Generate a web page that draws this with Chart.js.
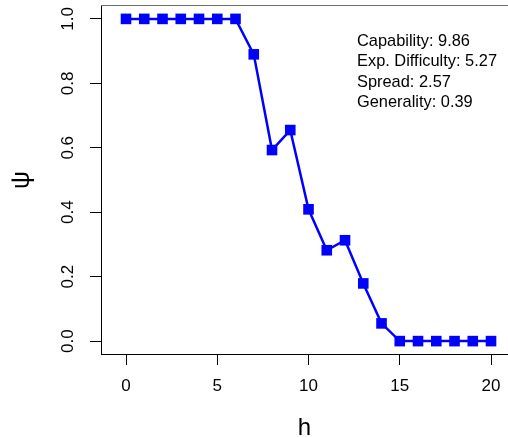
<!DOCTYPE html>
<html>
<head>
<meta charset="utf-8">
<script src="https://cdn.jsdelivr.net/npm/chart.js@4/dist/chart.umd.min.js"></script>
<style>
  html, body { margin: 0; padding: 0; background: #ffffff; }
  canvas { display: block; }
</style>
</head>
<body>
<canvas id="c" width="508" height="438"></canvas>
<script>
// ---- data ----
const hValues   = [0, 1, 2, 3, 4, 5, 6, 7, 8, 9, 10, 11, 12, 13, 14, 15, 16, 17, 18, 19, 20];
const psiValues = [1, 1, 1, 1, 1, 1, 1, 0.89, 0.593, 0.655, 0.409, 0.282, 0.313, 0.179, 0.055, 0, 0, 0, 0, 0, 0];
const xTicks = [0, 5, 10, 15, 20];
const yTicks = [0.0, 0.2, 0.4, 0.6, 0.8, 1.0];
const statLines = ['Capability: 9.86', 'Exp. Difficulty: 5.27', 'Spread: 2.57', 'Generality: 0.39'];
const xTitle = 'h';
const yTitle = 'ψ';

const FONT = '"Liberation Sans", Arial, Helvetica, sans-serif';

const points = hValues.map((h, i) => ({ x: h, y: psiValues[i] }));

function noOverflow(scale) {
  scale.paddingTop = 0;
  scale.paddingBottom = 0;
  scale.paddingLeft = 0;
  scale.paddingRight = 0;
}

const decorPlugin = {
  id: 'decor',
  afterDraw(chart) {
    const { ctx, chartArea } = chart;
    ctx.save();
    // top side of the plot box
    ctx.strokeStyle = '#6e6e6e';
    ctx.lineWidth = 1;
    ctx.beginPath();
    ctx.moveTo(chartArea.left, chartArea.top - 0.5);
    ctx.lineTo(chartArea.right, chartArea.top - 0.5);
    ctx.stroke();
    // statistics text
    ctx.fillStyle = '#000000';
    ctx.font = '16.4px ' + FONT;
    ctx.textAlign = 'left';
    ctx.textBaseline = 'alphabetic';
    const x0 = chartArea.right - 151;
    statLines.forEach((t, i) => {
      ctx.fillText(t, x0, chartArea.top + 39.5 + i * 20.5);
    });
    ctx.restore();
  }
};

new Chart(document.getElementById('c'), {
  type: 'line',
  data: {
    datasets: [{
      data: points,
      borderColor: '#0000ff',
      backgroundColor: '#0000ff',
      borderWidth: 2.5,
      tension: 0,
      pointStyle: 'rect',
      pointRadius: 7.5,
      pointBorderWidth: 0,
      pointBackgroundColor: '#0000ff',
      pointHoverRadius: 7.5,
      clip: false
    }]
  },
  options: {
    responsive: false,
    animation: false,
    events: [],
    layout: { autoPadding: false, padding: { top: 6, left: 0, right: 0, bottom: 0 } },
    plugins: {
      legend: { display: false },
      tooltip: { enabled: false },
      title: { display: false }
    },
    scales: {
      x: {
        type: 'linear',
        min: -1.37,
        max: 20.93,
        afterBuildTicks(scale) { scale.ticks = xTicks.map(v => ({ value: v })); },
        afterFit(scale) { scale.height = 84; noOverflow(scale); },
        border: { display: true, color: '#000000', width: 1 },
        grid: { display: true, drawOnChartArea: false, drawTicks: true, tickLength: 11, color: '#000000', lineWidth: 1 },
        ticks: {
          color: '#000000',
          font: { family: FONT, size: 17 },
          padding: 11.4,
          maxRotation: 0,
          minRotation: 0,
          callback: v => String(v)
        },
        title: {
          display: true,
          text: xTitle,
          color: '#000000',
          font: { family: FONT, size: 24 },
          padding: { top: 0, bottom: -4.5 }
        }
      },
      y: {
        type: 'linear',
        min: -0.04,
        max: 1.04,
        afterBuildTicks(scale) { scale.ticks = yTicks.map(v => ({ value: v })); },
        afterFit(scale) { scale.width = 101; noOverflow(scale); },
        border: { display: true, color: '#000000', width: 1 },
        grid: { display: true, drawOnChartArea: false, drawTicks: true, tickLength: 11, color: '#000000', lineWidth: 1 },
        ticks: {
          color: '#000000',
          font: { family: FONT, size: 17 },
          padding: 10.2,
          minRotation: 90,
          maxRotation: 90,
          crossAlign: 'center',
          callback: v => Number(v).toFixed(1)
        },
        title: {
          display: true,
          text: yTitle,
          color: '#000000',
          font: { family: FONT, size: 25 },
          padding: { top: 7, bottom: 0 }
        }
      }
    }
  },
  plugins: [decorPlugin]
});
</script>
</body>
</html>
